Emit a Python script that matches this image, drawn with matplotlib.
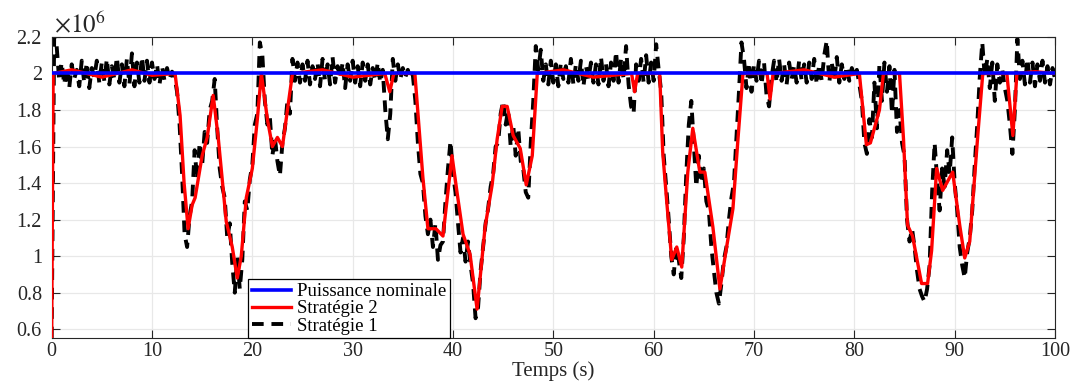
import numpy as np
import matplotlib
matplotlib.use("Agg")
import matplotlib.pyplot as plt
from matplotlib.ticker import FuncFormatter

plt.rcParams['font.family'] = ['Liberation Serif', 'DejaVu Serif']
plt.rcParams['mathtext.fontset'] = 'stix'

# puissance nominale (W)
p_nom = 2.0e6

# Strategie 1 : one row = one second, sampled every 0.25 s (x1e6 W)
s1_mw = [
    0.55, 2.20, 2.15, 1.96,  2.06, 1.94, 2.04, 1.92,  2.05, 1.97, 2.02, 1.93,  # 0-2
    2.07, 1.95, 2.06, 1.92,  2.03, 1.98, 2.07, 1.95,  2.06, 1.96, 2.08, 1.94,  # 3-5
    2.04, 1.97, 2.09, 1.95,  2.05, 1.93, 2.08, 1.94,  2.11, 1.93, 2.06, 1.95,  # 6-8
    2.09, 1.96, 2.07, 1.95,  2.06, 1.97, 2.05, 1.94,  2.04, 1.96, 2.03, 1.97,  # 9-11
    2.01, 1.98, 1.90, 1.72,  1.45, 1.12, 1.05, 1.22,  1.30, 1.58, 1.42, 1.62,  # 12-14
    1.50, 1.68, 1.62, 1.80,  1.85, 1.97, 1.70, 1.48,  1.38, 1.32, 1.10, 1.18,  # 15-17
    0.96, 0.80, 1.00, 0.82,  0.98, 1.30, 1.25, 1.42,  1.50, 1.72, 1.78, 2.17,  # 18-20
    2.10, 1.85, 1.72, 1.76,  1.55, 1.65, 1.52, 1.44,  1.62, 1.70, 1.85, 1.78,  # 21-23
    2.08, 1.96, 2.06, 1.95,  2.05, 1.96, 2.07, 1.94,  2.04, 1.97, 2.06, 1.93,  # 24-26
    2.08, 1.96, 2.05, 1.94,  2.09, 1.95, 2.04, 1.97,  2.06, 1.92, 2.05, 1.96,  # 27-29
    2.07, 1.95, 2.04, 1.93,  2.06, 1.96, 2.05, 1.94,  2.03, 1.96, 2.06, 1.95,  # 30-32
    2.02, 1.80, 1.64, 1.78,  2.08, 1.96, 2.05, 1.97,  2.03, 1.98, 2.02, 1.97,  # 33-35
    1.99, 1.85, 1.62, 1.45,  1.40, 1.22, 1.12, 1.20,  1.05, 1.18, 0.98, 1.06,  # 36-38
    1.08, 1.30, 1.48, 1.63,  1.45, 1.35, 1.18, 1.02,  1.10, 0.97, 1.08, 0.95,  # 39-41
    0.85, 0.66, 0.72, 0.92,  1.05, 1.18, 1.26, 1.38,  1.45, 1.60, 1.62, 1.78,  # 42-44
    1.85, 1.72, 1.80, 1.60,  1.72, 1.55, 1.70, 1.52,  1.48, 1.35, 1.32, 1.62,  # 45-47
    1.85, 2.15, 2.02, 2.13,  1.96, 2.05, 1.94, 2.07,  1.95, 2.05, 1.93, 2.06,  # 48-50
    1.97, 2.04, 1.95, 2.08,  1.94, 2.05, 1.96, 2.07,  1.93, 2.04, 1.97, 2.06,  # 51-53
    1.95, 2.05, 1.94, 2.09,  1.96, 2.05, 1.93, 2.06,  1.96, 2.12, 1.95, 2.08,  # 54-56
    1.97, 2.15, 1.94, 1.82,  1.78, 2.05, 1.96, 2.08,  1.95, 2.10, 1.95, 2.06,  # 57-59
    1.96, 2.16, 2.02, 1.90,  1.55, 1.38, 1.20, 1.00,  0.90, 1.05, 0.98, 0.88,  # 60-62
    1.10, 1.45, 1.72, 1.85,  1.62, 1.38, 1.55, 1.40,  1.48, 1.30, 1.25, 1.05,  # 63-65
    0.92, 0.80, 0.74, 0.85,  0.98, 1.05, 1.20, 1.32,  1.40, 1.65, 1.90, 2.17,  # 66-68
    2.08, 1.92, 2.06, 1.90,  2.05, 1.96, 2.07, 1.94,  2.06, 1.88, 1.82, 1.98,  # 69-71
    2.07, 1.95, 2.08, 1.96,  2.05, 1.94, 2.06, 1.97,  2.04, 1.95, 2.07, 1.96,  # 72-74
    2.05, 1.95, 2.06, 1.97,  2.08, 1.94, 2.05, 1.96,  2.10, 2.18, 1.95, 2.06,  # 75-77
    1.96, 2.09, 1.95, 2.05,  1.97, 2.04, 1.96, 2.03,  1.98, 2.02, 1.94, 1.85,  # 78-80
    1.62, 1.56, 1.75, 1.65,  1.95, 1.70, 2.05, 1.85,  2.06, 1.90, 2.04, 1.78,  # 81-83
    2.02, 1.68, 1.80, 1.62,  1.55, 1.20, 1.08, 1.15,  1.05, 0.92, 0.82, 0.78,  # 84-86
    0.75, 0.82, 0.95, 1.35,  1.62, 1.42, 1.25, 1.48,  1.38, 1.58, 1.45, 1.65,  # 87-89
    1.40, 1.25, 1.05, 0.95,  0.88, 1.02, 1.10, 1.25,  1.50, 1.72, 1.98, 2.17,  # 90-92
    1.98, 2.08, 1.92, 2.06,  1.85, 2.05, 1.95, 2.02,  1.92, 1.85, 1.72, 1.56,  # 93-95
    1.80, 2.19, 1.97, 2.07,  1.94, 2.08, 1.95, 2.06,  1.93, 2.05, 1.96, 2.07,  # 96-98
    1.95, 2.04, 1.94, 2.03,  1.97,                                              # 99-100
]

# Strategie 2 : smoother trace, read as (time, value) points (x1e6 W)
s2_t = [0, 0.15, 2, 5, 8, 10, 12.3, 12.8, 13.2, 13.6, 14.0, 14.3, 15.0, 15.5, 16.1,
        16.6, 17.0, 17.4, 18.0, 18.5, 18.9, 19.4, 20.0, 20.5, 20.9, 21.5, 22.0,
        22.5, 23.0, 23.5, 24.0, 27, 30, 33.2, 33.7, 34.1, 36.2, 37.0, 37.5, 38.3,
        39.0, 39.9, 40.4, 41.0, 41.7, 42.4, 43.2, 43.9, 44.4, 44.9, 45.4, 46.0,
        46.7, 47.3, 47.9, 48.4, 51, 54, 57.8, 58.1, 58.4, 60.6, 60.9, 61.3, 61.8,
        62.3, 62.8, 63.4, 63.9, 64.6, 65.1, 65.9, 66.6, 67.3, 67.9, 68.4, 68.9,
        71.3, 71.6, 71.9, 75, 78, 80.5, 81.2, 81.6, 82.5, 82.9, 84.5, 84.9, 85.3,
        85.8, 86.7, 87.3, 87.7, 88.2, 88.8, 89.8, 90.5, 91.0, 91.5, 92.3, 92.8,
        95.2, 95.8, 96.2, 98, 100]
s2_mw = [0.55, 2.0, 2.02, 1.98, 2.02, 1.99, 2.0, 1.77, 1.40, 1.15, 1.28, 1.32, 1.55, 1.65, 1.88,
         1.65, 1.42, 1.19, 1.05, 0.88, 1.00, 1.32, 1.48, 1.75, 2.0, 1.75, 1.60,
         1.65, 1.60, 1.80, 2.0, 2.02, 1.98, 2.0, 1.90, 2.0, 2.0, 1.43, 1.15, 1.15,
         1.11, 1.55, 1.35, 1.12, 1.01, 0.71, 1.16, 1.39, 1.64, 1.82, 1.82, 1.66,
         1.59, 1.39, 1.55, 2.0, 2.02, 1.98, 2.0, 1.90, 2.0, 2.0, 1.57, 1.30, 0.98,
         1.05, 0.94, 1.46, 1.70, 1.46, 1.46, 1.16, 0.82, 1.06, 1.26, 1.64, 2.0,
         2.0, 1.86, 2.0, 2.02, 1.98, 2.0, 1.61, 1.62, 1.80, 2.0, 2.0, 1.64, 1.17,
         1.11, 0.85, 0.85, 1.03, 1.48, 1.36, 1.46, 1.17, 0.99, 1.08, 1.66, 2.0,
         2.0, 1.66, 2.0, 2.01, 2.0]

s1 = np.array(s1_mw) * 1e6
s1_t = np.linspace(0, 100, len(s1))
s2 = np.array(s2_mw) * 1e6

fig = plt.figure(figsize=(10.76, 3.81), dpi=100)
ax = fig.add_axes([0.048, 0.112, 0.9325, 0.791])

# draw order: black below, red, blue on top
l1, = ax.plot(s1_t, s1, color='black', lw=2.8, ls=(0, (3, 2)), label='Stratégie 1', zorder=2)
l2, = ax.plot(s2_t, s2, color='red', lw=2.4, label='Stratégie 2', zorder=3)
l0 = ax.axhline(p_nom, color='blue', lw=2.6, label='Puissance nominale', zorder=4)

ax.set_xlim(0, 100)
ax.set_ylim(0.55e6, 2.2e6)
ax.set_xticks(np.arange(0, 101, 10))
ax.set_yticks(np.arange(0.6e6, 2.21e6, 0.2e6))
ax.yaxis.set_major_formatter(FuncFormatter(lambda v, p: '%g' % round(v / 1e6, 2)))
ax.text(0.002, 1.0, r'$\times10^{6}$', transform=ax.transAxes, fontsize=18,
        color='#262626', ha='left', va='bottom')

ax.grid(True, color='#e8e8e8', lw=0.9)
ax.set_axisbelow(True)
ax.tick_params(direction='in', length=6, width=0.8, top=True, right=True,
               labelsize=14.5, colors='#262626')
ax.tick_params(axis='x', pad=3)
ax.tick_params(axis='y', pad=7)
for s in ax.spines.values():
    s.set_color('#262626')
    s.set_linewidth(0.8)

ax.set_xlabel('Temps (s)', fontsize=15, labelpad=0, color='#262626')

leg = ax.legend(handles=[l0, l2, l1], loc='lower left', bbox_to_anchor=(0.196, 0.0),
                fontsize=13.5, frameon=True, fancybox=False, framealpha=1,
                edgecolor='black', borderpad=0.2, labelspacing=0.0,
                handlelength=2.1, handletextpad=0.3, borderaxespad=0)
leg.get_frame().set_linewidth(0.9)
leg.set_zorder(10)

fig.savefig('out.png', dpi=100)
